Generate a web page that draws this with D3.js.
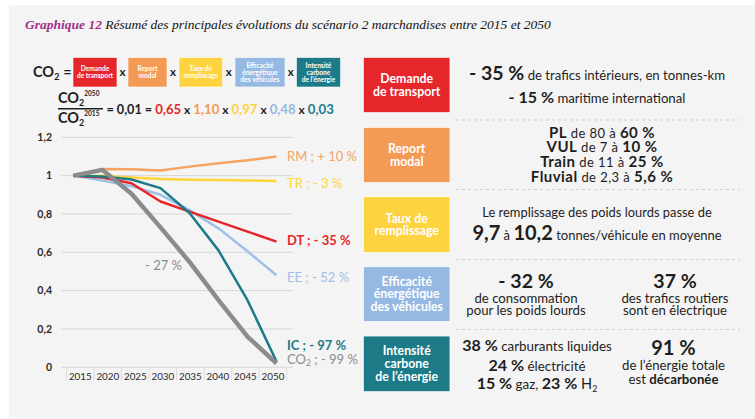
<!DOCTYPE html>
<html>
<head>
<meta charset="utf-8">
<script src="https://cdn.jsdelivr.net/npm/d3@7"></script>
<style>
  body { margin: 0; background: #fff; }
  text { font-family: Lato, "Open Sans", sans-serif; }
</style>
</head>
<body>
<div id="chart"></div>
<script>
// Data
const years = [2015, 2020, 2025, 2030, 2035, 2040, 2045, 2050];
const rmValues = [1, 1.035, 1.033, 1.027, 1.047, 1.064, 1.08, 1.10];
const trValues = [1, 1.0, 0.99, 0.983, 0.979, 0.977, 0.975, 0.972];
const eeValues = [1, 0.975, 0.945, 0.9, 0.82, 0.725, 0.605, 0.48];
const dtValues = [1, 0.99, 0.96, 0.865, 0.812, 0.76, 0.708, 0.656];
const icValues = [1, 0.995, 0.98, 0.935, 0.805, 0.61, 0.35, 0.03];
const co2Values = [1, 1.03, 0.905, 0.73, 0.55, 0.35, 0.16, 0.02];
const yTicks = [0, 0.2, 0.4, 0.6, 0.8, 1, 1.2];

const seriesKeys = ["RM", "TR", "EE", "DT", "IC", "CO"];
const seriesLabels = ["RM ; + 10 %", "TR ; - 3 %", "EE ; - 52 %", "DT ; - 35 %", "IC ; - 97 %", "CO"];
const ratios = ["0,65", "1,10", "0,97", "0,48", "0,03"];
const factorNames = [
  ["Demande", "de transport"],
  ["Report", "modal"],
  ["Taux de", "remplissage"],
  ["Efficacité", "énergétique", "des véhicules"],
  ["Intensité", "carbone", "de l’énergie"]
];

// Colours
const red = "#e5262b", orange = "#f39b55", yellow = "#fdd33f", blue = "#95b9e3", teal = "#1d7b88", grey = "#8c8c8c";
const dark = "#1e1e1e";
const factorColors = [red, orange, yellow, blue, teal];
const lineColors = { RM: "#f5a462", TR: "#fdd43a", EE: "#9fc0e8", DT: red, IC: teal, CO: grey };
const lineWidths = { RM: 2.5, TR: 2.5, EE: 2.5, DT: 2.5, IC: 2.5, CO: 4.5 };
const series = {
  RM: rmValues, TR: trValues, EE: eeValues, DT: dtValues, IC: icValues, CO: co2Values
};

const svg = d3.select("#chart")
  .append("svg")
  .attr("width", 755)
  .attr("height", 419);

svg.append("rect")
  .attr("x", 9).attr("y", 5)
  .attr("width", 746).attr("height", 414)
  .attr("fill", "#f4f4f4");

// text made of several parts (bold / regular / sub / sup)
function rich(parent, x, y, parts, anchor) {
  const t = parent.append("text")
    .attr("x", x).attr("y", y)
    .attr("text-anchor", anchor || "middle")
    .attr("fill", dark);
  let shift = 0;
  parts.forEach(function (p) {
    const s = t.append("tspan")
      .text(p.t)
      .style("font-size", p.s + "px")
      .style("font-weight", p.b ? 700 : 400);
    if (p.c) s.attr("fill", p.c);
    const want = p.shift || 0;
    if (want !== shift) { s.attr("dy", want - shift); shift = want; }
  });
  return t;
}

// Title
const title = svg.append("text")
  .attr("x", 25).attr("y", 29)
  .style("font-family", "'Liberation Serif', serif")
  .style("font-style", "italic")
  .style("font-size", "13.5px");
title.append("tspan").text("Graphique 12").attr("fill", "#a2328a").style("font-weight", 700);
title.append("tspan").text(" Résumé des principales évolutions du scénario 2 marchandises entre 2015 et 2050").attr("fill", "#111");

// Equation, first line
rich(svg, 33, 77, [{ t: "CO", s: 14.5, b: 1 }, { t: "2", s: 9.5, b: 1, shift: 3 }, { t: " =", s: 14.5, b: 1 }], "start");

const factorX = [73, 128, 179, 235, 296.5];
const factorW = [44, 39, 43.5, 50, 44];
const factors = svg.append("g");
factorNames.forEach(function (lines, i) {
  factors.append("rect")
    .attr("x", factorX[i]).attr("y", 57.5)
    .attr("width", factorW[i]).attr("height", 29.5)
    .attr("fill", factorColors[i])
    .attr("stroke", "#fff").attr("stroke-width", 0.6);
  lines.forEach(function (l, j) {
    factors.append("text")
      .attr("x", factorX[i] + factorW[i] / 2)
      .attr("y", 72.2 + (j - (lines.length - 1) / 2) * 7 + 2.3)
      .attr("text-anchor", "middle")
      .attr("fill", "#fff")
      .style("font-size", "6.6px")
      .style("font-weight", 700)
      .text(l);
  });
  if (i < factorNames.length - 1) {
    factors.append("text")
      .attr("x", factorX[i] + factorW[i] + (factorX[i + 1] - factorX[i] - factorW[i]) / 2)
      .attr("y", 76)
      .attr("text-anchor", "middle")
      .attr("fill", dark)
      .style("font-size", "11.5px")
      .style("font-weight", 700)
      .text("x");
  }
});

// Equation, second line (fraction)
rich(svg, 58, 103, [{ t: "CO", s: 14.5, b: 1 }, { t: "2", s: 9, b: 1, shift: 2.5 }, { t: "2050", s: 6.5, b: 1, shift: -7.5 }], "start");
svg.append("line")
  .attr("x1", 58).attr("x2", 103)
  .attr("y1", 108.8).attr("y2", 108.8)
  .attr("stroke", dark).attr("stroke-width", 1.4);
rich(svg, 58, 123, [{ t: "CO", s: 14.5, b: 1 }, { t: "2", s: 9, b: 1, shift: 2.5 }, { t: "2015", s: 6.5, b: 1, shift: -7.5 }], "start");

const eqParts = [{ t: "= 0,01 = ", s: 12.6, b: 1 }];
ratios.forEach(function (r, i) {
  eqParts.push({ t: r, s: 13.2, b: 1, c: factorColors[i] });
  if (i < ratios.length - 1) eqParts.push({ t: " x ", s: 12, b: 1 });
});
rich(svg, 106.5, 114, eqParts, "start");

// Line chart
const x = d3.scalePoint().domain(years).range([73.5, 276.5]);
const xBand = d3.scaleBand().domain(years).range([66.5, 286.7]);
const y = d3.scaleLinear().domain([0, 1.2]).range([367.3, 137.3]);

const chart = svg.append("g");

chart.append("g")
  .selectAll("line")
  .data(yTicks)
  .enter()
  .append("line")
  .attr("x1", 61.5).attr("x2", 293)
  .attr("y1", function (d) { return y(d); })
  .attr("y2", function (d) { return y(d); })
  .attr("stroke", "#d6d6d6")
  .attr("stroke-width", 1);

chart.append("g")
  .selectAll("text")
  .data(yTicks)
  .enter()
  .append("text")
  .attr("x", 52)
  .attr("y", function (d) { return y(d) + 3.7; })
  .attr("text-anchor", "end")
  .attr("fill", "#2a2a2a")
  .style("font-size", "10.5px")
  .style("font-weight", 700)
  .text(function (d) { return d3.format("~g")(d).replace(".", ","); });

// x axis: labels centred in bands, separators between them
const xAxis = chart.append("g")
  .attr("transform", "translate(0," + y(0) + ")")
  .call(d3.axisBottom(xBand).tickSize(0).tickPadding(6));
xAxis.select(".domain").remove();
xAxis.selectAll("text")
  .style("font-family", "Lato, sans-serif")
  .style("font-size", "9.8px")
  .attr("fill", "#2a2a2a");

chart.append("g")
  .selectAll("line")
  .data(years.concat(["end"]))
  .enter()
  .append("line")
  .attr("x1", function (d) { return d === "end" ? xBand.range()[1] : xBand(d); })
  .attr("x2", function (d) { return d === "end" ? xBand.range()[1] : xBand(d); })
  .attr("y1", y(0)).attr("y2", y(0) + 13)
  .attr("stroke", "#dcdcdc")
  .attr("stroke-width", 1);

const line = d3.line()
  .x(function (d, i) { return x(years[i]); })
  .y(function (d) { return y(d); });

chart.append("g")
  .selectAll("path")
  .data(seriesKeys)
  .enter()
  .append("path")
  .attr("d", function (k) { return line(series[k]); })
  .attr("fill", "none")
  .attr("stroke", function (k) { return lineColors[k]; })
  .attr("stroke-width", function (k) { return lineWidths[k]; })
  .attr("stroke-linejoin", "round");

// series labels
const labelY = { RM: 160.5, TR: 188.3, EE: 281.7, DT: 245, IC: 350, CO: 363.5 };
const labelBold = { RM: 0, TR: 0, EE: 0, DT: 1, IC: 1, CO: 0 };
seriesKeys.forEach(function (k, i) {
  if (k === "CO") {
    rich(chart, 287, labelY[k], [
      { t: "CO", s: 13, c: lineColors[k] },
      { t: "2", s: 8.5, c: lineColors[k], shift: 2.5 },
      { t: " ; - 99 %", s: 13, c: lineColors[k] }
    ], "start");
  } else {
    rich(chart, 287, labelY[k], [{ t: seriesLabels[i], s: 13, b: labelBold[k], c: lineColors[k] }], "start");
  }
});
rich(chart, 163.5, 270, [{ t: "- 27 %", s: 13, c: grey }]);

// Right hand side: coloured boxes
const boxY = [57.3, 127.3, 196.7, 266.7, 336];
const boxH = [55.4, 55.4, 56, 55, 55.7];
const side = svg.append("g");
factorNames.forEach(function (lines, i) {
  side.append("rect")
    .attr("x", 363.3).attr("y", boxY[i])
    .attr("width", 86.7).attr("height", boxH[i])
    .attr("fill", factorColors[i])
    .attr("stroke", "#fff").attr("stroke-width", 0.8);
  const cy = boxY[i] + boxH[i] / 2;
  lines.forEach(function (l, j) {
    side.append("text")
      .attr("x", 406.7)
      .attr("y", cy + (j - (lines.length - 1) / 2) * 12.8 + 4.2)
      .attr("text-anchor", "middle")
      .attr("fill", "#fff")
      .style("font-size", "12.3px")
      .style("font-weight", 700)
      .text(l);
  });
});

// dashed separators
const sepY = [120, 189.5, 259.5, 329.5];
side.append("g")
  .selectAll("line")
  .data(sepY)
  .enter()
  .append("line")
  .attr("x1", 456).attr("x2", 740)
  .attr("y1", function (d) { return d; })
  .attr("y2", function (d) { return d; })
  .attr("stroke", "#cfcfcf")
  .attr("stroke-width", 1)
  .attr("stroke-dasharray", "3,3");

// row 1
rich(side, 597, 80, [{ t: "- 35 %", s: 19.5, b: 1 }, { t: " de trafics intérieurs, en tonnes-km", s: 13.2 }]);
rich(side, 597, 102.7, [{ t: "- 15 %", s: 16, b: 1 }, { t: " maritime international", s: 13.2 }]);

// row 2
const row2 = [
  ["PL", " de 80 à ", "60 %", 137.5],
  ["VUL", " de 7 à ", "10 %", 152.3],
  ["Train", " de 11 à ", "25 %", 167],
  ["Fluvial", " de 2,3 à ", "5,6 %", 181.7]
];
row2.forEach(function (r) {
  rich(side, 602, r[3], [{ t: r[0], s: 15, b: 1 }, { t: r[1], s: 13 }, { t: r[2], s: 15, b: 1 }])
    .style("letter-spacing", "0.45px");
});

// row 3
rich(side, 597, 216.7, [{ t: "Le remplissage des poids lourds passe de", s: 12.9 }]);
rich(side, 597, 240, [{ t: "9,7", s: 20, b: 1 }, { t: " à ", s: 13 }, { t: "10,2", s: 20, b: 1 }, { t: " tonnes/véhicule en moyenne", s: 13 }]);

// row 4
rich(side, 526, 288.3, [{ t: "- 32 %", s: 19.5, b: 1 }]);
rich(side, 526, 302.7, [{ t: "de consommation", s: 13.2 }]);
rich(side, 526, 315.2, [{ t: "pour les poids lourds", s: 13.2 }]);
rich(side, 675, 288.3, [{ t: "37 %", s: 19.5, b: 1 }]);
rich(side, 675, 302.7, [{ t: "des trafics routiers", s: 13.2 }]);
rich(side, 675, 315.2, [{ t: "sont en électrique", s: 13.2 }]);

// row 5
rich(side, 537, 350.7, [{ t: "38 %", s: 16, b: 1 }, { t: " carburants liquides", s: 13.4 }]);
rich(side, 537, 370.5, [{ t: "24 %", s: 16, b: 1 }, { t: " électricité", s: 13.4 }]);
rich(side, 537, 389.3, [
  { t: "15 %", s: 16, b: 1 }, { t: " gaz, ", s: 13.4 }, { t: "23 %", s: 16, b: 1 },
  { t: " H", s: 14.5 }, { t: "2", s: 9, shift: 2.5 }
]);
rich(side, 673.5, 355, [{ t: "91 %", s: 20, b: 1 }]);
rich(side, 673.5, 370, [{ t: "de l’énergie totale", s: 13.2 }]);
rich(side, 673.5, 383.5, [{ t: "est ", s: 13.2 }, { t: "décarbonée", s: 13.2, b: 1 }]);
</script>
</body>
</html>
